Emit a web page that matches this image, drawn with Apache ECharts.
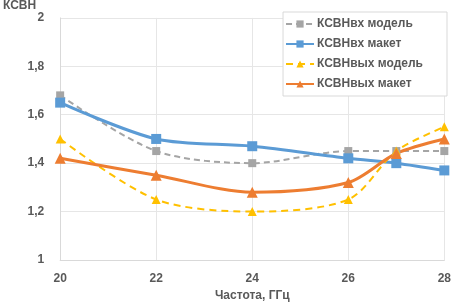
<!DOCTYPE html>
<html>
<head>
<meta charset="utf-8">
<script src="https://cdn.jsdelivr.net/npm/echarts@6/dist/echarts.min.js"></script>
<style>
  html, body { margin: 0; padding: 0; background: #fff; }
  #chart { width: 454px; height: 307px; }
</style>
</head>
<body>
<div id="chart"></div>
<script>
// частота, ГГц
const freq = [20, 22, 24, 26, 27, 28]
const vhModel = [1.68, 1.45, 1.40, 1.45, 1.45, 1.45]
const vhMaket = [1.65, 1.50, 1.47, 1.42, 1.40, 1.37]
const vyhModel = [1.50, 1.25, 1.20, 1.25, 1.45, 1.55]
const vyhMaket = [1.42, 1.35, 1.28, 1.32, 1.44, 1.50]
const yTicks = [1, 1.2, 1.4, 1.6, 1.8, 2]

const pairs = vals => freq.map((f, i) => [f, vals[i]])
const txt = '#595959'
const font = 'Liberation Sans'

const chart = echarts.init(document.getElementById('chart'))
const option = {
  animation: false,
  textStyle: { fontFamily: font },
  grid: { left: 60, right: 8, top: 14, bottom: 47 },
  xAxis: {
    type: 'value', min: 20, max: 28, interval: 2,
    name: 'Частота, ГГц', nameLocation: 'middle', nameGap: 29,
    nameTextStyle: { color: txt, fontSize: 12, fontWeight: 'bold' },
    axisLine: { lineStyle: { color: '#d9d9d9' } },
    axisTick: { show: false },
    axisLabel: { color: txt, fontSize: 12, fontWeight: 'bold', margin: 13 },
    splitLine: { lineStyle: { color: '#e6e6e6' } }
  },
  yAxis: {
    type: 'value', min: yTicks[0], max: yTicks[yTicks.length - 1], interval: 0.2,
    name: 'КСВН', nameLocation: 'end', nameGap: 2,
    nameTextStyle: { color: txt, fontSize: 12, fontWeight: 'bold', align: 'right', padding: [0, 24, 0, 0] },
    axisLine: { show: true, lineStyle: { color: '#d9d9d9' } },
    axisTick: { show: false },
    axisLabel: {
      color: txt, fontSize: 12, fontWeight: 'bold', margin: 16,
      formatter: v => String(Math.round(v * 10) / 10).replace('.', ',')
    },
    splitLine: { lineStyle: { color: '#e6e6e6' } }
  },
  legend: {
    orient: 'vertical', right: 7, top: 12,
    backgroundColor: '#fff', borderColor: '#d9d9d9', borderWidth: 1,
    padding: [6, 24, 6, 2], itemGap: 8, itemWidth: 28, itemHeight: 9,
    textStyle: { color: txt, fontSize: 12, fontWeight: 'bold', padding: [0, 0, 0, -2] },
    data: ['КСВНвх модель', 'КСВНвх макет', 'КСВНвых модель', 'КСВНвых макет']
  },
  series: [
    {
      name: 'КСВНвх модель', type: 'line', smooth: 0.3, data: pairs(vhModel),
      symbol: 'rect', symbolSize: 8,
      lineStyle: { color: '#a5a5a5', width: 2, type: [6, 4] },
      itemStyle: { color: '#a5a5a5' }
    },
    {
      name: 'КСВНвх макет', type: 'line', smooth: 0.3, data: pairs(vhMaket),
      symbol: 'rect', symbolSize: 10,
      lineStyle: { color: '#5b9bd5', width: 3 },
      itemStyle: { color: '#5b9bd5' }
    },
    {
      name: 'КСВНвых модель', type: 'line', smooth: 0.3, data: pairs(vyhModel),
      symbol: 'triangle', symbolSize: 9,
      lineStyle: { color: '#ffc000', width: 2, type: [7, 5] },
      itemStyle: { color: '#ffc000' }
    },
    {
      name: 'КСВНвых макет', type: 'line', smooth: 0.3, data: pairs(vyhMaket),
      symbol: 'triangle', symbolSize: 11,
      lineStyle: { color: '#ed7d31', width: 3 },
      itemStyle: { color: '#ed7d31' }
    }
  ]
}
chart.setOption(option)
</script>
</body>
</html>
